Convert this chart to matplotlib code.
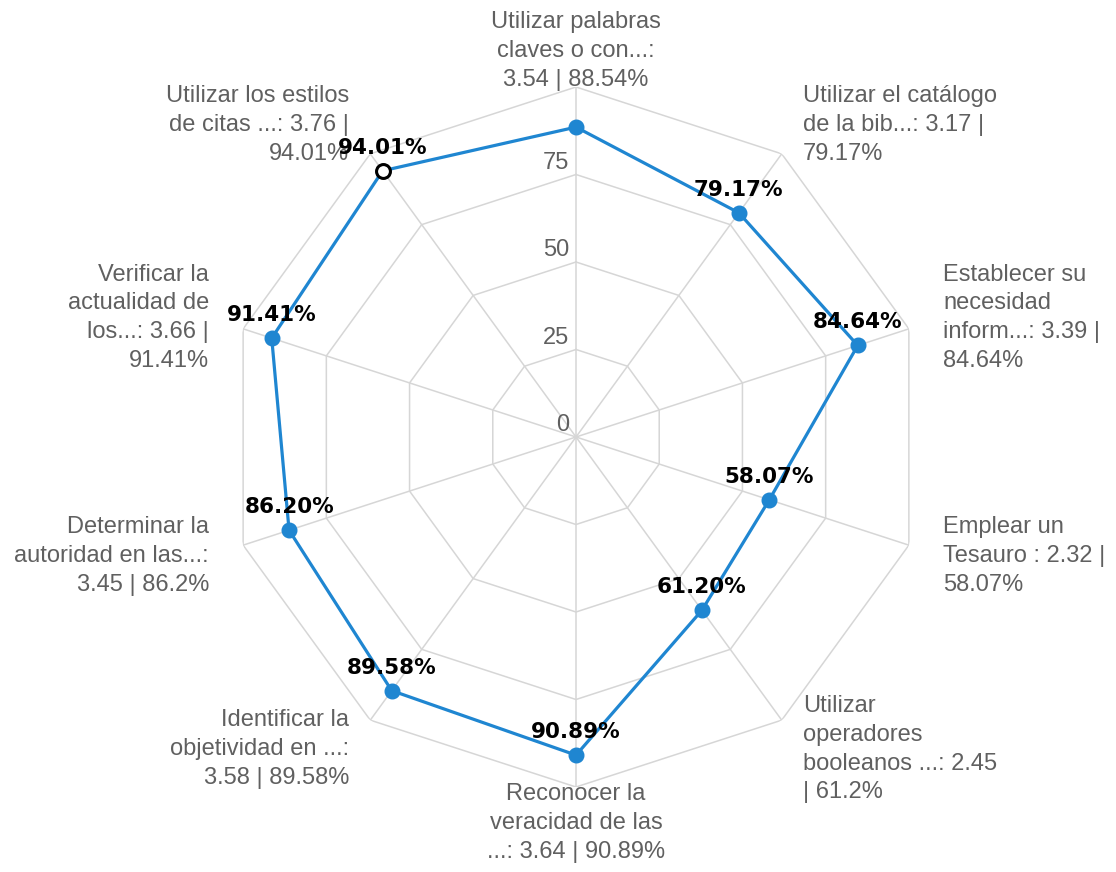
import numpy as np
import matplotlib
matplotlib.use("Agg")
import matplotlib.pyplot as plt

# Skills self-assessment: percentage achieved per item (score out of 4)
labels = [
    "Utilizar palabras\nclaves o con...:\n3.54 | 88.54%",
    "Utilizar el catálogo\nde la bib...: 3.17 |\n79.17%",
    "Establecer su\nnecesidad\ninform...: 3.39 |\n84.64%",
    "Emplear un\nTesauro : 2.32 |\n58.07%",
    "Utilizar\noperadores\nbooleanos ...: 2.45\n| 61.2%",
    "Reconocer la\nveracidad de las\n...: 3.64 | 90.89%",
    "Identificar la\nobjetividad en ...:\n3.58 | 89.58%",
    "Determinar la\nautoridad en las...:\n3.45 | 86.2%",
    "Verificar la\nactualidad de\nlos...: 3.66 |\n91.41%",
    "Utilizar los estilos\nde citas ...: 3.76 |\n94.01%",
]
percent = [88.54, 79.17, 84.64, 58.07, 61.20, 90.89, 89.58, 86.20, 91.41, 94.01]
ring_levels = [25, 50, 75, 100]
tick_levels = [0, 25, 50, 75]
highlight = 9          # point shown in its hover state
hidden_value_label = 0  # value label suppressed where it collides with the axis label

BLUE = "#1f86d1"
GRID = "#d6d6d6"
TEXT_GREY = "#606060"
LABEL_FONT = ["Liberation Sans", "DejaVu Sans"]

n = len(percent)
theta = np.linspace(0, 2 * np.pi, n, endpoint=False)
theta_closed = np.append(theta, theta[0])

fig = plt.figure(figsize=(11.16, 8.72), dpi=100)
ax = fig.add_axes([226 / 1116, 85 / 872, 700 / 1116, 700 / 872], projection="polar")
ax.set_theta_zero_location("N")
ax.set_theta_direction(-1)
ax.set_ylim(0, 100)
ax.grid(False)
ax.set_xticks([])
ax.set_yticks([])
ax.spines["polar"].set_visible(False)

# polygonal grid rings and spokes
for lvl in ring_levels:
    ax.plot(theta_closed, [lvl] * (n + 1), color=GRID, lw=1.1, zorder=1)
for th in theta:
    ax.plot([th, th], [0, ring_levels[-1]], color=GRID, lw=1.1, zorder=1)

# radial tick labels, left of the vertical spoke
for lvl in tick_levels:
    ax.annotate(str(lvl), xy=(0, lvl), xytext=(-7, 12), textcoords="offset pixels",
                ha="right", va="center", fontsize=17, family=LABEL_FONT,
                color=TEXT_GREY, annotation_clip=False, zorder=2)

# series line and markers
vals_closed = np.append(percent, percent[0])
ax.plot(theta_closed, vals_closed, color=BLUE, lw=2.3, zorder=3)
mask = np.arange(n) != highlight
ax.plot(theta[mask], np.array(percent)[mask], "o", color=BLUE, ms=10.5, zorder=4)
ax.plot(theta[highlight], percent[highlight], "o", mfc="white", mec="black",
        mew=2.2, ms=10, zorder=5)

# value labels above each point
for i, (th, v) in enumerate(zip(theta, percent)):
    if i == hidden_value_label:
        continue
    ax.annotate(f"{v:.2f}%", xy=(th, v), xytext=(0, 23), textcoords="offset pixels",
                ha="center", va="center", fontsize=15.5, fontweight="bold",
                color="black", zorder=6, annotation_clip=False)

# category labels outside the outer ring
label_r = 100 + 36 / 3.5
for th, lab in zip(theta, labels):
    s = np.sin(th)
    if abs(s) < 1e-6:
        ha = "center"
    elif s > 0:
        ha = "left"
    else:
        ha = "right"
    ax.text(th, label_r, lab, ha=ha, va="center", multialignment=ha,
            fontsize=17, family=LABEL_FONT, color=TEXT_GREY, linespacing=1.4,
            clip_on=False)

fig.savefig("out.png", dpi=100, facecolor="white")
